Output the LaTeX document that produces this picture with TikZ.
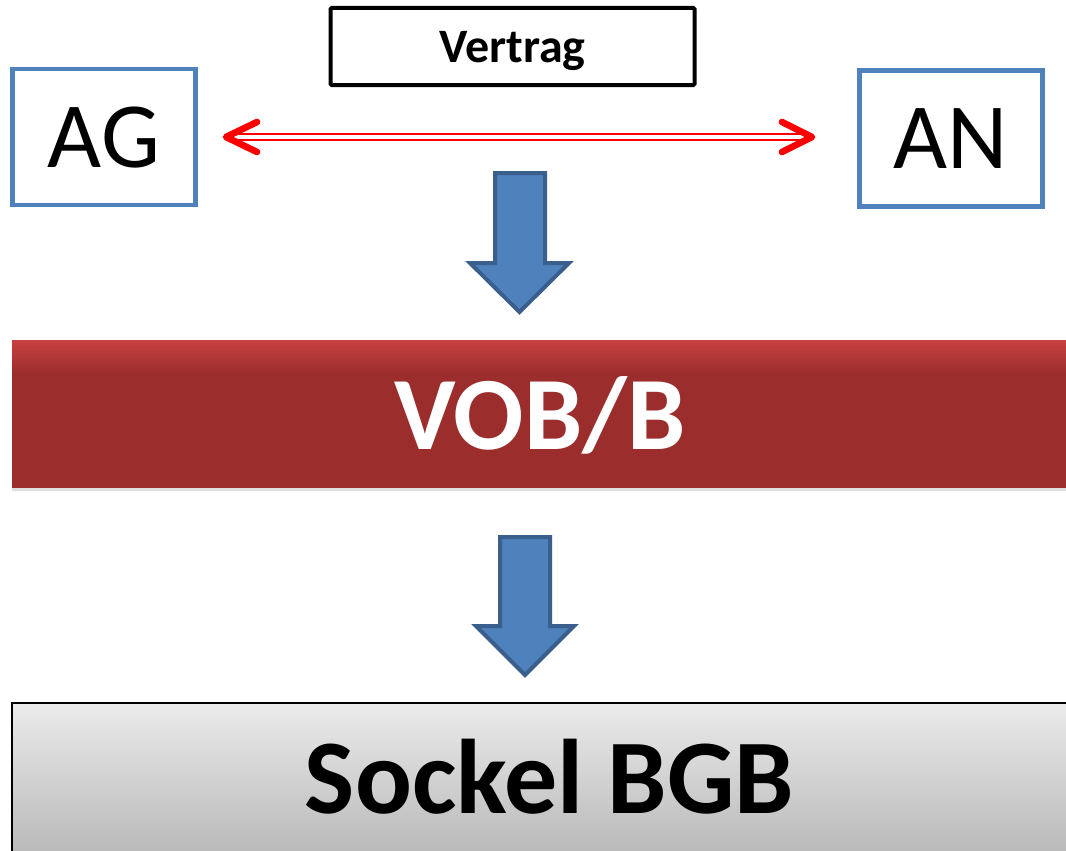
\documentclass[tikz,border=0pt]{standalone}
\usepackage{fontspec}
\setmainfont{Carlito}
\usetikzlibrary{shadows}
\definecolor{boxblue}{HTML}{4F81BD}
\definecolor{arrowedge}{HTML}{3A5F8C}
\definecolor{vobred}{HTML}{9B2D2D}
\definecolor{vobtop}{HTML}{C94141}
\definecolor{bgbtop}{HTML}{EBEBEB}
\definecolor{bgbbot}{HTML}{B9B9B9}
\tikzset{
  partybox/.style={draw=boxblue, line width=3.4pt, fill=white, inner sep=0pt,
    minimum width=137pt, minimum height=102pt, text height=45pt, text depth=0pt,
    font=\fontsize{70}{80}\selectfont},
  vertragbox/.style={draw=black, line width=3pt, rounded corners=1pt, inner sep=0pt,
    minimum width=273pt, minimum height=58pt, text height=23.25pt, text depth=0pt,
    font=\bfseries\fontsize{36}{40}\selectfont},
  blockarrow/.style={fill=boxblue, draw=arrowedge, line width=3pt, line join=miter},
  redline/.style={draw=red, line width=2.1pt, double=white, double distance=2.4pt},
  chevron/.style={draw=red, line width=5pt, line cap=round, line join=round},
}
\begin{document}
\begin{tikzpicture}[x=0.75pt, y=-0.75pt]
\useasboundingbox (0,0) rectangle (1066,850);
% top row
\node[vertragbox] (vertrag) at (512.5,46.5) {Vertrag};
\node[partybox] (ag) at (104,137) {AG};
\node[partybox] (an) at (951,138.5) {AN};
% double arrow
\coordinate (L) at (226,137);
\coordinate (R) at (812,137);
\draw[redline] ([xshift=3pt]L) -- ([xshift=-3pt]R);
\draw[chevron] (257,122) -- (L) -- (257,152);
\draw[chevron] (782,122) -- (R) -- (782,152);
% block arrow 1
\draw[blockarrow] (495,173) -- (545,173) -- (545,263) -- (569,263) -- (519.5,312)
  -- (470,263) -- (495,263) -- cycle;
% VOB/B bar
\node[draw=none, fill=vobred, inner sep=0pt, minimum width=797.25pt, minimum height=111pt,
  drop shadow={shadow xshift=0pt, shadow yshift=-2.5pt, opacity=0.25}] (vob) at (543.5,414) {};
\fill[top color=vobtop, bottom color=vobred] (12,340) rectangle (1075,374);
\node[text=white, inner sep=0pt, text height=50pt, text depth=0pt,
  font=\bfseries\fontsize{78}{90}\selectfont] (vobtext) at (540,416.5) {VOB/B};
% block arrow 2
\draw[blockarrow] (500,537) -- (550,537) -- (550,626) -- (574,626) -- (525,675)
  -- (476,626) -- (500,626) -- cycle;
% Sockel BGB
\node[draw=black, line width=2pt, top color=bgbtop, bottom color=bgbbot, inner sep=0pt,
  minimum width=797.25pt, minimum height=112.5pt] (bgb) at (543.5,778) {};
\node[inner sep=0pt, text height=52.5pt, text depth=0pt,
  font=\bfseries\fontsize{79.5}{92}\selectfont] (bgbtext) at (549.5,778) {Sockel BGB};
\end{tikzpicture}
\end{document}
